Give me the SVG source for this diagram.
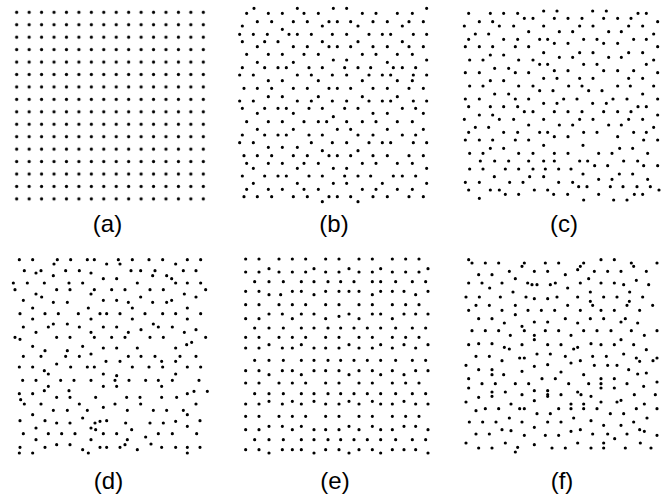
<svg xmlns="http://www.w3.org/2000/svg" width="671" height="497" viewBox="0 0 671 497">
<style>
.dots{fill:none;stroke:#000;stroke-width:9.6;stroke-linecap:round}
.lbl{font-family:"Liberation Sans",Arial,sans-serif;font-size:24px;fill:#000;text-anchor:middle}
</style>
<defs>
<pattern id="grid" patternUnits="userSpaceOnUse" x="10.48" y="6.08" width="12.44" height="12.44">
<circle cx="6.22" cy="6.22" r="1.6" fill="#000"/>
</pattern>
</defs>
<rect width="671" height="497" fill="#fff"/>
<g id="panel-a">
<rect x="10.48" y="6.08" width="199.04" height="199.04" fill="url(#grid)"/>
<text class="lbl" x="107.5" y="231.5">(a)</text>
</g>
<g id="panel-b">
<g transform="translate(224,0) scale(0.33333)">
<path class="dots" d="M90 25h0M220 25h0M328 25h0M368 25h0M608 25h0M68 40h0M133 40h0M175 40h0M240 40h0M283 40h0M415 40h0M456 40h0M520 40h0M565 40h0M100 65h0M143 65h0M208 65h0M250 65h0M315 65h0M340 65h0M380 65h0M447 65h0M490 65h0M555 65h0M598 65h0M55 78h0M295 78h0M402 78h0M535 78h0M175 88h0M47 103h0M88 103h0M130 103h0M195 103h0M220 103h0M262 103h0M325 103h0M368 103h0M435 103h0M475 103h0M500 103h0M568 103h0M608 103h0M55 125h0M122 125h0M162 125h0M295 125h0M402 125h0M535 125h0M100 140h0M208 140h0M250 140h0M315 140h0M340 140h0M380 140h0M447 140h0M490 140h0M555 140h0M598 140h0M68 163h0M133 163h0M175 163h0M240 163h0M283 163h0M415 163h0M456 163h0M520 163h0M565 163h0M328 180h0M368 180h0M608 180h0M100 187h0M208 187h0M490 187h0M55 203h0M122 203h0M162 203h0M187 203h0M255 203h0M295 203h0M362 203h0M402 203h0M440 203h0M508 203h0M535 203h0M575 203h0M47 225h0M88 225h0M220 225h0M262 225h0M325 225h0M368 225h0M435 225h0M475 225h0M500 225h0M568 225h0M608 225h0M133 242h0M175 242h0M283 242h0M415 242h0M520 242h0M565 242h0M60 265h0M100 265h0M143 265h0M208 265h0M250 265h0M315 265h0M340 265h0M380 265h0M447 265h0M490 265h0M555 265h0M598 265h0M133 290h0M175 290h0M283 290h0M415 290h0M520 290h0M47 303h0M88 303h0M220 303h0M262 303h0M325 303h0M368 303h0M435 303h0M475 303h0M500 303h0M568 303h0M608 303h0M55 325h0M122 325h0M162 325h0M187 325h0M255 325h0M295 325h0M362 325h0M402 325h0M535 325h0M575 325h0M100 340h0M208 340h0M447 340h0M490 340h0M598 340h0M328 350h0M68 365h0M133 365h0M175 365h0M240 365h0M283 365h0M308 365h0M368 365h0M415 365h0M456 365h0M520 365h0M565 365h0M100 388h0M208 388h0M340 388h0M380 388h0M490 388h0M598 388h0M55 405h0M122 405h0M162 405h0M187 405h0M255 405h0M295 405h0M402 405h0M447 405h0M535 405h0M575 405h0M47 428h0M88 428h0M262 428h0M325 428h0M368 428h0M435 428h0M475 428h0M500 428h0M568 428h0M608 428h0M133 442h0M175 442h0M220 442h0M295 452h0M402 452h0M60 467h0M100 467h0M143 467h0M208 467h0M250 467h0M315 467h0M340 467h0M380 467h0M447 467h0M490 467h0M555 467h0M598 467h0M68 490h0M133 490h0M175 490h0M240 490h0M283 490h0M415 490h0M456 490h0M520 490h0M565 490h0M88 505h0M220 505h0M328 505h0M368 505h0M608 505h0M55 528h0M122 528h0M162 528h0M187 528h0M255 528h0M295 528h0M362 528h0M402 528h0M440 528h0M508 528h0M535 528h0M575 528h0M88 550h0M220 550h0M328 550h0M368 550h0M475 550h0M608 550h0M68 568h0M133 568h0M175 568h0M240 568h0M283 568h0M415 568h0M456 568h0M520 568h0M565 568h0M60 590h0M100 590h0M143 590h0M208 590h0M250 590h0M315 590h0M340 590h0M380 590h0M447 590h0M490 590h0M555 590h0M598 590h0M295 605h0M402 605h0"/>
</g>
<text class="lbl" x="334" y="231.5">(b)</text>
</g>
<g id="panel-c">
<g transform="translate(447,0) scale(0.33333)">
<path class="dots" d="M290 33h0M330 33h0M437 33h0M478 33h0M65 40h0M130 40h0M170 40h0M212 40h0M573 40h0M598 40h0M232 55h0M258 55h0M322 55h0M363 55h0M405 55h0M470 55h0M512 55h0M552 55h0M97 65h0M137 65h0M632 65h0M52 78h0M157 78h0M200 78h0M290 78h0M398 78h0M438 78h0M545 78h0M587 78h0M245 95h0M337 95h0M377 95h0M485 95h0M523 95h0M85 102h0M125 102h0M620 102h0M65 118h0M170 118h0M212 118h0M278 118h0M302 118h0M410 118h0M450 118h0M560 118h0M598 118h0M322 130h0M363 130h0M470 130h0M512 130h0M55 140h0M97 140h0M137 140h0M205 140h0M245 140h0M632 140h0M290 158h0M398 158h0M438 158h0M545 158h0M587 158h0M130 165h0M170 165h0M337 172h0M377 172h0M485 172h0M523 172h0M68 180h0M108 180h0M215 180h0M258 180h0M620 180h0M278 193h0M302 193h0M410 193h0M450 193h0M598 193h0M143 205h0M185 205h0M322 212h0M363 212h0M470 212h0M512 212h0M560 212h0M55 218h0M97 218h0M205 218h0M245 218h0M632 218h0M290 235h0M330 235h0M398 235h0M438 235h0M545 235h0M587 235h0M130 242h0M170 242h0M68 258h0M108 258h0M215 258h0M258 258h0M365 258h0M405 258h0M512 258h0M550 258h0M620 258h0M278 272h0M318 272h0M425 272h0M465 272h0M143 282h0M185 282h0M587 282h0M55 297h0M97 297h0M205 297h0M245 297h0M350 297h0M390 297h0M498 297h0M540 297h0M632 297h0M290 310h0M330 310h0M437 310h0M478 310h0M65 320h0M130 320h0M170 320h0M212 320h0M573 320h0M598 320h0M232 335h0M258 335h0M322 335h0M363 335h0M405 335h0M470 335h0M512 335h0M552 335h0M97 345h0M137 345h0M632 345h0M52 358h0M157 358h0M200 358h0M290 358h0M398 358h0M438 358h0M545 358h0M587 358h0M245 375h0M337 375h0M377 375h0M485 375h0M523 375h0M85 382h0M125 382h0M620 382h0M65 397h0M170 397h0M212 397h0M278 397h0M302 397h0M410 397h0M450 397h0M560 397h0M598 397h0M322 410h0M363 410h0M512 410h0M55 420h0M97 420h0M137 420h0M205 420h0M245 420h0M590 420h0M632 420h0M290 436h0M408 436h0M130 445h0M170 445h0M518 445h0M557 445h0M68 460h0M108 460h0M215 460h0M258 460h0M322 460h0M363 460h0M455 460h0M495 460h0M602 460h0M100 483h0M143 483h0M185 483h0M245 483h0M290 483h0M322 483h0M398 483h0M422 483h0M530 483h0M572 483h0M443 497h0M482 497h0M590 497h0M632 497h0M68 507h0M108 507h0M175 507h0M215 507h0M258 507h0M295 507h0M335 507h0M372 507h0M408 522h0M517 522h0M557 522h0M142 530h0M248 530h0M290 530h0M455 538h0M495 538h0M602 538h0M55 547h0M97 547h0M188 547h0M228 547h0M335 547h0M377 547h0M395 560h0M420 560h0M490 560h0M528 560h0M570 560h0M610 560h0M65 570h0M130 570h0M157 570h0M262 570h0M302 570h0M636 570h0M175 583h0M215 583h0M320 583h0M362 583h0M455 583h0M562 583h0M587 583h0M97 595h0M410 600h0M500 600h0M540 600h0"/>
</g>
<text class="lbl" x="564" y="231.5">(c)</text>
</g>
<g id="panel-d">
<g transform="translate(0,248) scale(0.33333)">
<path class="dots" d="M58 35h0M98 35h0M172 35h0M212 35h0M262 35h0M283 35h0M355 35h0M397 35h0M447 35h0M488 35h0M562 35h0M602 35h0M162 48h0M320 48h0M360 48h0M527 48h0M73 68h0M123 68h0M197 68h0M238 68h0M393 68h0M422 68h0M465 68h0M550 68h0M588 68h0M108 75h0M273 75h0M160 83h0M458 83h0M500 83h0M310 92h0M350 92h0M515 92h0M40 105h0M82 105h0M133 105h0M207 105h0M248 105h0M412 105h0M527 105h0M562 105h0M602 105h0M45 125h0M170 125h0M210 125h0M283 125h0M335 125h0M375 125h0M450 125h0M490 125h0M617 125h0M108 138h0M273 138h0M553 138h0M125 147h0M422 147h0M588 147h0M70 157h0M310 157h0M350 157h0M515 157h0M160 163h0M202 163h0M385 163h0M458 163h0M500 163h0M98 180h0M265 180h0M397 180h0M562 180h0M60 197h0M135 197h0M175 197h0M235 197h0M300 197h0M320 197h0M360 197h0M435 197h0M488 197h0M527 197h0M602 197h0M98 213h0M273 213h0M397 213h0M562 213h0M160 228h0M202 228h0M460 228h0M70 237h0M145 237h0M238 237h0M310 237h0M350 237h0M475 237h0M517 237h0M423 245h0M588 245h0M108 253h0M273 253h0M385 253h0M553 253h0M45 268h0M60 274h0M170 268h0M210 268h0M283 268h0M335 268h0M375 268h0M450 268h0M490 268h0M617 268h0M560 290h0M575 283h0M98 295h0M248 295h0M310 300h0M350 300h0M412 300h0M527 300h0M135 308h0M202 308h0M273 318h0M70 325h0M123 325h0M197 325h0M238 325h0M385 325h0M423 325h0M465 325h0M540 325h0M588 325h0M318 340h0M360 340h0M485 340h0M527 340h0M170 348h0M58 357h0M98 357h0M212 357h0M262 357h0M283 357h0M397 357h0M447 357h0M488 357h0M562 357h0M602 357h0M133 368h0M145 378h0M310 378h0M350 383h0M527 378h0M68 397h0M108 397h0M182 397h0M222 397h0M273 397h0M345 397h0M387 397h0M437 397h0M475 397h0M517 397h0M597 397h0M145 415h0M310 415h0M350 415h0M485 415h0M133 428h0M207 428h0M58 437h0M98 437h0M562 437h0M582 430h0M622 430h0M170 448h0M210 448h0M287 448h0M380 448h0M420 448h0M485 448h0M530 448h0M62 455h0M73 468h0M123 468h0M238 468h0M345 468h0M422 468h0M588 468h0M310 478h0M160 487h0M202 487h0M262 487h0M382 487h0M460 487h0M500 487h0M550 487h0M98 500h0M562 500h0M248 510h0M60 518h0M135 518h0M170 525h0M210 525h0M300 520h0M320 518h0M377 525h0M450 525h0M490 525h0M527 520h0M600 518h0M285 525h0M108 540h0M273 540h0M562 535h0M70 557h0M145 557h0M185 557h0M225 557h0M310 557h0M350 557h0M475 557h0M517 557h0M590 557h0M287 545h0M395 545h0M437 567h0M108 575h0M273 575h0M382 575h0M135 598h0M170 590h0M210 590h0M375 590h0M453 588h0M527 598h0M60 598h0M300 598h0M320 598h0M360 598h0M485 598h0M562 598h0M600 598h0M248 605h0M412 605h0M58 615h0M98 615h0M265 615h0M562 615h0"/>
</g>
<text class="lbl" x="108.5" y="488.5">(d)</text>
</g>
<g id="panel-e">
<g transform="translate(224,248) scale(0.33333)">
<path class="dots" d="M65 33h0M105 33h0M165 33h0M205 33h0M245 33h0M305 33h0M345 33h0M405 33h0M445 33h0M505 33h0M545 33h0M585 33h0M65 72h0M105 72h0M135 62h0M165 72h0M205 72h0M245 72h0M270 62h0M305 72h0M345 72h0M375 62h0M405 72h0M445 72h0M470 62h0M505 72h0M545 72h0M585 72h0M612 62h0M92 101h0M135 101h0M178 101h0M232 101h0M270 101h0M312 101h0M350 101h0M390 101h0M445 101h0M470 101h0M515 101h0M565 101h0M605 101h0M65 130h0M105 130h0M135 140h0M170 140h0M205 130h0M232 130h0M270 140h0M305 130h0M345 130h0M375 130h0M405 130h0M445 140h0M470 130h0M505 130h0M540 130h0M575 140h0M612 130h0M65 170h0M105 170h0M165 170h0M205 170h0M245 170h0M305 170h0M345 170h0M405 170h0M445 170h0M505 170h0M545 170h0M585 170h0M65 212h0M105 212h0M135 198h0M175 198h0M205 212h0M232 198h0M270 198h0M305 212h0M345 205h0M375 198h0M405 212h0M445 198h0M470 198h0M505 212h0M540 198h0M575 198h0M612 198h0M92 240h0M135 240h0M178 240h0M232 240h0M270 240h0M312 240h0M350 240h0M390 240h0M430 240h0M470 240h0M515 240h0M565 240h0M605 240h0M65 268h0M105 268h0M165 268h0M205 268h0M245 268h0M305 268h0M345 268h0M405 268h0M445 268h0M505 268h0M545 268h0M585 268h0M65 300h0M105 300h0M135 290h0M175 300h0M205 300h0M232 290h0M270 300h0M305 300h0M345 300h0M375 290h0M405 300h0M445 300h0M470 290h0M505 300h0M540 290h0M575 300h0M612 290h0M92 337h0M135 337h0M178 337h0M232 337h0M270 337h0M312 337h0M350 337h0M390 337h0M430 337h0M470 337h0M515 337h0M565 337h0M605 337h0M65 368h0M105 368h0M135 380h0M175 368h0M205 368h0M232 380h0M270 368h0M305 368h0M345 368h0M375 380h0M405 368h0M445 368h0M470 380h0M505 368h0M540 380h0M575 368h0M612 368h0M65 405h0M105 405h0M165 405h0M205 405h0M245 405h0M305 405h0M345 405h0M405 405h0M445 405h0M505 405h0M545 405h0M585 405h0M92 437h0M135 437h0M178 437h0M232 437h0M270 437h0M312 437h0M350 437h0M390 437h0M430 437h0M470 437h0M515 437h0M565 437h0M605 437h0M65 468h0M105 468h0M135 460h0M175 468h0M205 460h0M232 468h0M270 460h0M305 468h0M345 468h0M375 460h0M405 468h0M445 460h0M470 468h0M505 468h0M540 460h0M575 468h0M612 468h0M65 505h0M105 505h0M165 505h0M205 505h0M245 505h0M305 505h0M345 505h0M405 505h0M445 505h0M505 505h0M545 505h0M585 505h0M65 545h0M105 545h0M135 535h0M175 535h0M205 545h0M232 535h0M270 545h0M305 545h0M345 545h0M375 535h0M405 545h0M445 535h0M470 545h0M505 545h0M540 535h0M575 535h0M612 545h0M92 575h0M135 575h0M178 575h0M232 575h0M270 575h0M312 575h0M350 575h0M390 575h0M430 575h0M470 575h0M515 575h0M565 575h0M605 575h0M65 605h0M105 605h0M135 615h0M175 605h0M205 605h0M232 605h0M270 615h0M305 605h0M345 605h0M375 615h0M405 605h0M445 605h0M470 615h0M505 605h0M540 605h0M575 605h0M612 615h0"/>
</g>
<text class="lbl" x="335" y="488.5">(e)</text>
</g>
<g id="panel-f">
<g transform="translate(447,248) scale(0.33333)">
<path class="dots" d="M65 35h0M462 35h0M502 35h0M553 45h0M630 45h0M75 45h0M115 45h0M155 45h0M232 45h0M295 45h0M335 45h0M410 45h0M225 55h0M400 55h0M560 55h0M392 65h0M187 70h0M262 70h0M302 70h0M442 70h0M482 70h0M522 70h0M598 70h0M95 80h0M135 80h0M355 80h0M205 92h0M425 92h0M568 97h0M65 105h0M105 105h0M165 105h0M242 105h0M255 110h0M270 110h0M310 110h0M325 105h0M400 105h0M462 105h0M502 105h0M530 110h0M605 110h0M128 120h0M362 120h0M198 132h0M430 132h0M548 132h0M57 147h0M97 147h0M160 147h0M237 147h0M262 152h0M302 152h0M330 147h0M392 147h0M470 147h0M510 147h0M587 147h0M430 160h0M547 160h0M65 187h0M87 172h0M127 172h0M165 187h0M205 172h0M362 172h0M437 172h0M540 172h0M617 172h0M243 187h0M283 187h0M323 187h0M400 187h0M462 187h0M502 187h0M578 187h0M205 200h0M95 212h0M135 212h0M172 225h0M302 222h0M355 212h0M392 225h0M430 212h0M470 212h0M535 212h0M262 222h0M522 222h0M572 225h0M225 235h0M75 248h0M115 248h0M155 248h0M232 248h0M262 262h0M295 248h0M335 248h0M410 248h0M450 248h0M492 248h0M553 248h0M630 248h0M190 262h0M372 262h0M592 262h0M262 275h0M522 275h0M65 290h0M95 287h0M135 287h0M225 290h0M302 290h0M342 290h0M432 287h0M462 290h0M502 290h0M560 290h0M172 298h0M187 303h0M380 303h0M392 298h0M598 305h0M270 318h0M310 318h0M530 318h0M87 325h0M127 325h0M218 330h0M232 330h0M355 325h0M437 325h0M478 325h0M568 330h0M630 330h0M165 338h0M578 340h0M618 338h0M372 345h0M400 338h0M57 352h0M262 355h0M302 350h0M442 352h0M482 352h0M545 365h0M95 365h0M135 365h0M170 380h0M225 370h0M510 352h0M342 372h0M572 378h0M598 375h0M135 380h0M410 380h0M65 392h0M285 392h0M325 392h0M462 392h0M502 392h0M630 402h0M105 407h0M145 407h0M205 407h0M245 407h0M365 407h0M425 407h0M462 407h0M540 407h0M590 415h0M65 420h0M462 420h0M502 420h0M135 432h0M175 432h0M262 428h0M302 428h0M392 432h0M225 440h0M302 440h0M342 440h0M402 440h0M432 445h0M562 440h0M625 440h0M135 445h0M302 445h0M95 448h0M262 458h0M57 462h0M462 462h0M510 462h0M522 457h0M192 468h0M372 468h0M410 468h0M592 468h0M115 482h0M155 482h0M218 482h0M232 482h0M335 482h0M410 482h0M450 482h0M568 482h0M630 482h0M87 488h0M372 482h0M270 497h0M310 497h0M490 497h0M530 497h0M187 510h0M380 510h0M600 510h0M67 522h0M107 522h0M147 522h0M225 522h0M302 522h0M342 522h0M432 518h0M560 522h0M470 532h0M262 538h0M522 532h0M165 545h0M192 548h0M400 545h0M578 545h0M592 550h0M372 550h0M87 558h0M127 558h0M232 562h0M295 562h0M335 562h0M437 558h0M482 558h0M540 558h0M630 562h0M503 572h0M57 585h0M175 585h0M262 590h0M392 585h0M470 585h0M580 585h0M95 600h0M135 600h0M212 598h0M315 600h0M355 600h0M432 600h0M470 600h0M535 600h0M612 600h0M205 612h0"/>
</g>
<text class="lbl" x="562" y="488.5">(f)</text>
</g>
</svg>
